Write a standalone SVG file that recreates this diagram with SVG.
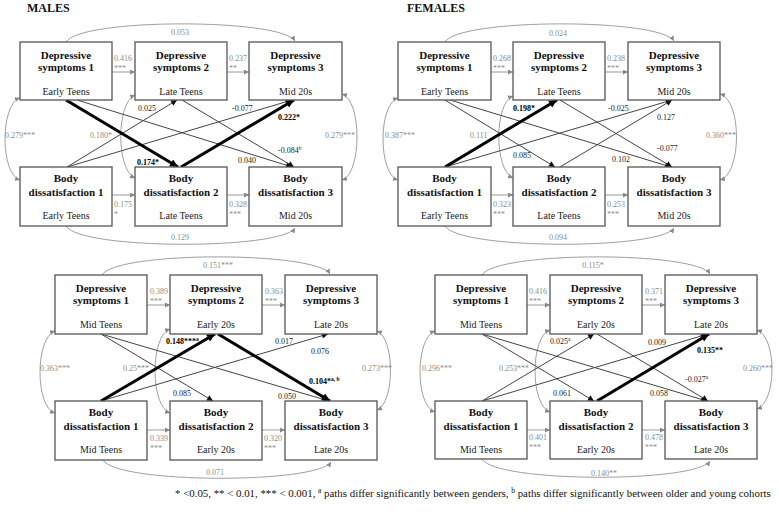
<svg xmlns="http://www.w3.org/2000/svg" width="779" height="517" viewBox="0 0 779 517">
<style>
text{font-family:"Liberation Serif","Times New Roman",serif}
.bx{fill:#fff;stroke:#555;stroke-width:1.3}
.h{font-size:11px;font-weight:bold;text-anchor:middle;fill:#111}
.s{font-size:10px;text-anchor:middle;fill:#222}
.ttl{font-size:12px;font-weight:bold;fill:#111}
.g{font-size:8px;fill:#8c8c8c}
.gm{font-size:8px;fill:#8c8c8c;text-anchor:middle}
.k{font-size:8px;fill:#222}
.kb{font-size:8px;fill:#000;font-weight:bold}
.sup{font-size:5.5px}
.ar{stroke:#999;stroke-width:1;fill:none;marker-end:url(#mg)}
.cv{stroke:#a0a0a0;stroke-width:1;fill:none;marker-end:url(#mg)}
.cd{stroke:#a0a0a0;stroke-width:1;fill:none;marker-start:url(#mg);marker-end:url(#mg)}
.xl{stroke:#444;stroke-width:1;fill:none;marker-end:url(#mk)}
.xt{stroke:#000;stroke-width:3;fill:none;marker-end:url(#mt)}
.ft{font-size:10.85px;fill:#111}
</style>
<defs>
<marker id="mg" viewBox="0 0 10 10" refX="10" refY="5" markerWidth="5" markerHeight="5" markerUnits="userSpaceOnUse" orient="auto-start-reverse"><path d="M0,0 L10,5 L0,10 z" fill="#888"/></marker>
<marker id="mk" viewBox="0 0 10 10" refX="10" refY="5" markerWidth="7" markerHeight="6" markerUnits="userSpaceOnUse" orient="auto"><path d="M0,0 L10,5 L0,10 z" fill="#111"/></marker>
<marker id="mt" viewBox="0 0 10 10" refX="10" refY="5" markerWidth="9" markerHeight="8" markerUnits="userSpaceOnUse" orient="auto"><path d="M0,0 L10,5 L0,10 z" fill="#000"/></marker>
</defs>
<rect width="779" height="517" fill="#fff"/>
<text class="ttl" x="27" y="12">MALES</text>
<text class="ttl" x="407" y="12">FEMALES</text>

<g id="connectors">
<!-- Panel 1: males top -->
<path class="ar" d="M112,72 L135,72"/>
<path class="ar" d="M227,72 L249,72"/>
<path class="ar" d="M112,195 L135,195"/>
<path class="ar" d="M227,195 L249,195"/>
<path class="cv" d="M66,42 C80,18 281,18 295,41"/>
<path class="cv" d="M66,226 C80,250 281,250 295,228"/>
<path class="cd" d="M20,98 C0,104 0,174 20,180"/>
<path class="cd" d="M135,95 C116,103 116,170 135,178"/>
<path class="cd" d="M342,94 C362,100 362,174 342,180"/>
<path class="xl" d="M77,100 L292,167"/>
<path class="xl" d="M67,167 L177,100"/>
<path class="xl" d="M67,167 L292,100"/>
<path class="xl" d="M182,100 L294,167"/>
<path class="xt" d="M66,100 L178,167"/>
<path class="xt" d="M181,167 L294,100"/>
<!-- Panel 2: females top -->
<path class="ar" d="M491,72 L513,72"/>
<path class="ar" d="M605,72 L628,72"/>
<path class="ar" d="M491,195 L513,195"/>
<path class="ar" d="M605,195 L628,195"/>
<path class="cv" d="M445,42 C459,18 660,18 674,41"/>
<path class="cv" d="M445,226 C459,250 660,250 674,228"/>
<path class="cd" d="M398,98 C378,104 378,174 398,180"/>
<path class="cd" d="M513,96 C494,103 494,170 513,178"/>
<path class="cd" d="M720,94 C742,100 742,174 720,180"/>
<path class="xl" d="M445,100 L555,167"/>
<path class="xl" d="M450,100 L671,167"/>
<path class="xl" d="M445,167 L672,100"/>
<path class="xl" d="M560,100 L672,167"/>
<path class="xl" d="M560,167 L672,100"/>
<path class="xt" d="M445,167 L557,100"/>
<!-- Panel 3: males bottom -->
<path class="ar" d="M147,305 L170,305"/>
<path class="ar" d="M262,305 L285,305"/>
<path class="ar" d="M147,430 L170,430"/>
<path class="ar" d="M262,430 L285,430"/>
<path class="cv" d="M102,275 C116,251 316,251 330,274"/>
<path class="cv" d="M103,460 C117,484 317,484 331,462"/>
<path class="cd" d="M55,331 C35,338 35,407 55,413"/>
<path class="cd" d="M170,329 C150,336 150,406 170,413"/>
<path class="cd" d="M377,331 C395,338 395,403 377,410"/>
<path class="xl" d="M101,334 L213,401"/>
<path class="xl" d="M101,334 L329,401"/>
<path class="xl" d="M101,401 L328,334"/>
<path class="xt" d="M101,401 L215,334"/>
<path class="xt" d="M218,334 L330,401"/>
<!-- Panel 4: females bottom -->
<path class="ar" d="M527,305 L550,305"/>
<path class="ar" d="M642,305 L665,305"/>
<path class="ar" d="M527,430 L550,430"/>
<path class="ar" d="M642,430 L665,430"/>
<path class="cv" d="M482,275 C496,251 696,251 710,274"/>
<path class="cv" d="M482,459 C496,483 696,483 710,461"/>
<path class="cd" d="M435,331 C415,338 415,406 435,412"/>
<path class="cd" d="M550,330 C530,337 530,405 550,412"/>
<path class="cd" d="M757,330 C777,337 777,402 757,409"/>
<path class="xl" d="M482,334 L594,401"/>
<path class="xl" d="M482,334 L707,401"/>
<path class="xl" d="M482,401 L594,334"/>
<path class="xl" d="M482,401 L708,334"/>
<path class="xl" d="M597,334 L708,401"/>
<path class="xt" d="M597,401 L709,334"/>
</g>

<g id="p1-ds1"><rect class="bx" x="20" y="42" width="92" height="58"/><text class="h" x="66" y="59">Depressive</text><text class="h" x="66" y="71">symptoms 1</text><text class="s" x="66" y="95">Early Teens</text></g>
<g id="p1-ds2"><rect class="bx" x="135" y="42" width="92" height="58"/><text class="h" x="181" y="59">Depressive</text><text class="h" x="181" y="71">symptoms 2</text><text class="s" x="181" y="95">Late Teens</text></g>
<g id="p1-ds3"><rect class="bx" x="249" y="42" width="93" height="58"/><text class="h" x="295.5" y="59">Depressive</text><text class="h" x="295.5" y="71">symptoms 3</text><text class="s" x="295.5" y="95">Mid 20s</text></g>
<g id="p1-bd1"><rect class="bx" x="20" y="167" width="92" height="59"/><text class="h" x="66" y="182">Body</text><text class="h" x="66" y="196">dissatisfaction 1</text><text class="s" x="66" y="219">Early Teens</text></g>
<g id="p1-bd2"><rect class="bx" x="135" y="167" width="92" height="59"/><text class="h" x="181" y="182">Body</text><text class="h" x="181" y="196">dissatisfaction 2</text><text class="s" x="181" y="219">Late Teens</text></g>
<g id="p1-bd3"><rect class="bx" x="249" y="167" width="93" height="59"/><text class="h" x="295.5" y="182">Body</text><text class="h" x="295.5" y="196">dissatisfaction 3</text><text class="s" x="295.5" y="219">Mid 20s</text></g>

<g id="p2-ds1"><rect class="bx" x="398" y="42" width="93" height="58"/><text class="h" x="444.5" y="59">Depressive</text><text class="h" x="444.5" y="71">symptoms 1</text><text class="s" x="444.5" y="95">Early Teens</text></g>
<g id="p2-ds2"><rect class="bx" x="513" y="42" width="92" height="58"/><text class="h" x="559" y="59">Depressive</text><text class="h" x="559" y="71">symptoms 2</text><text class="s" x="559" y="95">Late Teens</text></g>
<g id="p2-ds3"><rect class="bx" x="628" y="42" width="92" height="58"/><text class="h" x="674" y="59">Depressive</text><text class="h" x="674" y="71">symptoms 3</text><text class="s" x="674" y="95">Mid 20s</text></g>
<g id="p2-bd1"><rect class="bx" x="398" y="167" width="93" height="59"/><text class="h" x="444.5" y="182">Body</text><text class="h" x="444.5" y="196">dissatisfaction 1</text><text class="s" x="444.5" y="219">Early Teens</text></g>
<g id="p2-bd2"><rect class="bx" x="513" y="167" width="92" height="59"/><text class="h" x="559" y="182">Body</text><text class="h" x="559" y="196">dissatisfaction 2</text><text class="s" x="559" y="219">Late Teens</text></g>
<g id="p2-bd3"><rect class="bx" x="628" y="167" width="92" height="59"/><text class="h" x="674" y="182">Body</text><text class="h" x="674" y="196">dissatisfaction 3</text><text class="s" x="674" y="219">Mid 20s</text></g>

<g id="p3-ds1"><rect class="bx" x="55" y="275" width="92" height="59"/><text class="h" x="101" y="292">Depressive</text><text class="h" x="101" y="304">symptoms 1</text><text class="s" x="101" y="328">Mid Teens</text></g>
<g id="p3-ds2"><rect class="bx" x="170" y="275" width="92" height="59"/><text class="h" x="216" y="292">Depressive</text><text class="h" x="216" y="304">symptoms 2</text><text class="s" x="216" y="328">Early 20s</text></g>
<g id="p3-ds3"><rect class="bx" x="285" y="275" width="92" height="59"/><text class="h" x="331" y="292">Depressive</text><text class="h" x="331" y="304">symptoms 3</text><text class="s" x="331" y="328">Late 20s</text></g>
<g id="p3-bd1"><rect class="bx" x="55" y="401" width="92" height="59"/><text class="h" x="101" y="416">Body</text><text class="h" x="101" y="430">dissatisfaction 1</text><text class="s" x="101" y="453">Mid Teens</text></g>
<g id="p3-bd2"><rect class="bx" x="170" y="401" width="92" height="59"/><text class="h" x="216" y="416">Body</text><text class="h" x="216" y="430">dissatisfaction 2</text><text class="s" x="216" y="453">Early 20s</text></g>
<g id="p3-bd3"><rect class="bx" x="285" y="401" width="92" height="59"/><text class="h" x="331" y="416">Body</text><text class="h" x="331" y="430">dissatisfaction 3</text><text class="s" x="331" y="453">Late 20s</text></g>

<g id="p4-ds1"><rect class="bx" x="435" y="275" width="92" height="59"/><text class="h" x="481" y="292">Depressive</text><text class="h" x="481" y="304">symptoms 1</text><text class="s" x="481" y="328">Mid Teens</text></g>
<g id="p4-ds2"><rect class="bx" x="550" y="275" width="92" height="59"/><text class="h" x="596" y="292">Depressive</text><text class="h" x="596" y="304">symptoms 2</text><text class="s" x="596" y="328">Early 20s</text></g>
<g id="p4-ds3"><rect class="bx" x="665" y="275" width="92" height="59"/><text class="h" x="711" y="292">Depressive</text><text class="h" x="711" y="304">symptoms 3</text><text class="s" x="711" y="328">Late 20s</text></g>
<g id="p4-bd1"><rect class="bx" x="435" y="401" width="92" height="58"/><text class="h" x="481" y="416">Body</text><text class="h" x="481" y="430">dissatisfaction 1</text><text class="s" x="481" y="453">Mid Teens</text></g>
<g id="p4-bd2"><rect class="bx" x="550" y="401" width="92" height="58"/><text class="h" x="596" y="416">Body</text><text class="h" x="596" y="430">dissatisfaction 2</text><text class="s" x="596" y="453">Early 20s</text></g>
<g id="p4-bd3"><rect class="bx" x="665" y="401" width="92" height="58"/><text class="h" x="711" y="416">Body</text><text class="h" x="711" y="430">dissatisfaction 3</text><text class="s" x="711" y="453">Late 20s</text></g>

<g id="labels">
<!-- Panel 1 -->
<text class="gm" x="180" y="35">0.053</text>
<text class="g" x="114" y="61">0.416</text><text class="g" x="114" y="70.5">***</text>
<text class="g" x="229" y="61">0.237</text><text class="g" x="229" y="70.5">**</text>
<text class="g" x="5" y="138">0.279***</text>
<text class="g" x="90" y="138">0.180*</text>
<text class="g" x="325" y="138">0.279***</text>
<text class="g" x="114" y="207">0.175</text><text class="g" x="114" y="217">*</text>
<text class="g" x="229" y="207">0.328</text><text class="g" x="229" y="217">***</text>
<text class="gm" x="180" y="240">0.129</text>
<text class="k" x="138" y="111">0.025</text>
<text class="k" x="232" y="111">-0.077</text>
<text class="kb" x="278" y="120">0.222*</text>
<text class="kb" x="137" y="165">0.174*</text>
<text class="k" x="238" y="163">0.040</text>
<text class="k" x="278" y="153">-0.084<tspan class="sup" dy="-3">b</tspan></text>
<!-- Panel 2 -->
<text class="gm" x="558" y="36">0.024</text>
<text class="g" x="493" y="61">0.268</text><text class="g" x="493" y="70.5">***</text>
<text class="g" x="607" y="61">0.238</text><text class="g" x="607" y="70.5">***</text>
<text class="g" x="385" y="138">0.387***</text>
<text class="g" x="470" y="138">0.111</text>
<text class="g" x="706" y="138">0.360***</text>
<text class="g" x="493" y="207">0.323</text><text class="g" x="493" y="217">***</text>
<text class="g" x="607" y="207">0.253</text><text class="g" x="607" y="217">***</text>
<text class="gm" x="558" y="240">0.094</text>
<text class="kb" x="513" y="111">0.198*</text>
<text class="k" x="608" y="111">-0.025</text>
<text class="k" x="657" y="120">0.127</text>
<text class="k" x="513" y="158">0.085</text>
<text class="k" x="612" y="162">0.102</text>
<text class="k" x="657" y="151">-0.077</text>
<!-- Panel 3 -->
<text class="gm" x="218" y="268">0.151***</text>
<text class="g" x="150" y="294">0.389</text><text class="g" x="150" y="303.5">***</text>
<text class="g" x="265" y="294">0.363</text><text class="g" x="265" y="303.5">***</text>
<text class="g" x="40" y="371">0.363***</text>
<text class="g" x="123" y="371">0.25***</text>
<text class="g" x="362" y="371">0.273***</text>
<text class="g" x="150" y="441">0.339</text><text class="g" x="150" y="451">***</text>
<text class="g" x="264" y="441">0.320</text><text class="g" x="264" y="451">***</text>
<text class="gm" x="215" y="475">0.071</text>
<text class="kb" x="166" y="344">0.148***<tspan class="sup" dy="-3">a</tspan></text>
<text class="k" x="275" y="344">0.017</text>
<text class="k" x="311" y="354">0.076</text>
<text class="kb" x="309" y="384">0.104*<tspan class="sup" dy="-3">a, b</tspan></text>
<text class="k" x="173" y="396">0.085</text>
<text class="k" x="278" y="399">0.050</text>
<!-- Panel 4 -->
<text class="gm" x="593" y="268">0.115*</text>
<text class="g" x="529" y="294">0.416</text><text class="g" x="529" y="303.5">***</text>
<text class="g" x="645" y="294">0.371</text><text class="g" x="645" y="303.5">***</text>
<text class="g" x="422" y="371">0.296***</text>
<text class="g" x="499" y="371">0.253***</text>
<text class="g" x="743" y="371">0.260***</text>
<text class="g" x="529" y="440">0.401</text><text class="g" x="529" y="450">***</text>
<text class="g" x="645" y="440">0.478</text><text class="g" x="645" y="450">***</text>
<text class="gm" x="604" y="476">0.140**</text>
<text class="k" x="550" y="344">0.025<tspan class="sup" dy="-3">a</tspan></text>
<text class="k" x="648" y="345">0.009</text>
<text class="kb" x="697" y="353">0.135**</text>
<text class="k" x="685" y="382">-0.027<tspan class="sup" dy="-3">a</tspan></text>
<text class="k" x="553" y="396">0.061</text>
<text class="k" x="650" y="396">0.058</text>
</g>

<text class="ft" x="175" y="497">* &lt;0.05, ** &lt; 0.01, *** &lt; 0.001, <tspan font-size="7.5" dy="-4">a</tspan><tspan dy="4"> paths differ significantly between genders, </tspan><tspan font-size="7.5" dy="-4">b</tspan><tspan dy="4"> paths differ significantly between older and young cohorts</tspan></text>
</svg>
